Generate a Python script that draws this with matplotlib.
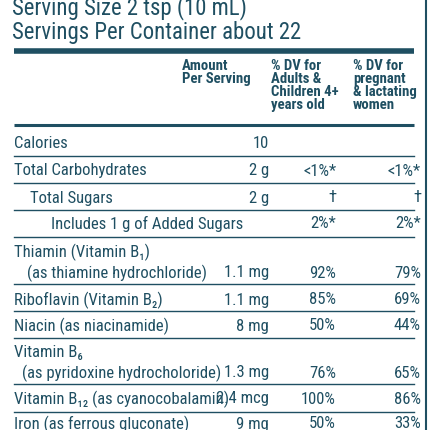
import matplotlib
matplotlib.use("Agg")
import matplotlib.pyplot as plt
from matplotlib import font_manager

names = {f.name for f in font_manager.fontManager.ttflist}
FAM = ["Liberation Sans Narrow", "Roboto Condensed", "DejaVu Sans Condensed", "DejaVu Sans"]
FAM = [f for f in FAM if f in names] + ["DejaVu Sans"]
C = "#1f4f62"

title_lines = ["Serving Size 2 tsp (10 mL)", "Servings Per Container about 22"]
headers = [("Amount\nPer Serving", 182), ("% DV for\nAdults &\nChildren 4+\nyears old", 271),
           ("% DV for\npregnant\n& lactating\nwomen", 353)]
# (label lines, indent, amount, dv_adult, dv_preg)
rows = [
    (["Calories"], [0], "10", "", ""),
    (["Total Carbohydrates"], [0], "2 g", "<1%*", "<1%*"),
    (["Total Sugars"], [16], "2 g", "†", "†"),
    (["Includes 1 g of Added Sugars"], [37], "", "2%*", "2%*"),
    (["Thiamin (Vitamin B₁)", "(as thiamine hydrochloride)"], [0, 13], "1.1 mg", "92%", "79%"),
    (["Riboflavin (Vitamin B₂)"], [0], "1.1 mg", "85%", "69%"),
    (["Niacin (as niacinamide)"], [0], "8 mg", "50%", "44%"),
    (["Vitamin B₆", "(as pyridoxine hydrocholoride)"], [0, 8], "1.3 mg", "76%", "65%"),
    (["Vitamin B₁₂ (as cyanocobalamin)"], [0], "2.4 mcg", "100%", "86%"),
    (["Iron (as ferrous gluconate)"], [0], "9 mg", "50%", "33%"),
]
row_y = [144, 171, 198, 224, 252, 300, 326, 352, 399, 424]
line_y = [156, 183, 210, 237, 284, 311, 338, 384, 412, None]

fig = plt.figure(figsize=(4.3, 4.3), dpi=100)
ax = fig.add_axes([0, 0, 1, 1])
ax.set_xlim(0, 430); ax.set_ylim(430, 0); ax.axis("off")

ax.plot([426, 426], [0, 430], color=C, lw=1.5)
for t, y in zip(title_lines, [8, 32]):
    ax.text(12, y, t, family=FAM, fontsize=16.4, color=C, va="center")
ax.plot([14, 414], [51, 51], color=C, lw=4, solid_capstyle="butt")
for t, x in headers:
    ax.text(x, 59, t, family=FAM, fontsize=10.6, weight="bold", color=C, va="top", linespacing=0.92)
ax.plot([14, 414], [125, 125], color=C, lw=2.2, solid_capstyle="butt")

kw = dict(family=FAM, fontsize=12, color=C, va="center")
for (labels, ind, amt, d1, d2), y, ly in zip(rows, row_y, line_y):
    for k, (lab, i) in enumerate(zip(labels, ind)):
        ax.text(14 + i, y + 21 * k, lab, **kw)
    yy = y + 21 * (len(labels) - 1)
    ax.text(269, yy, amt, ha="right", **kw)
    ax.text(336, yy, d1, ha="right", **kw)
    ax.text(421, yy, d2, ha="right", **kw)
    if ly:
        ax.plot([14, 414], [ly, ly], color=C, lw=1.0)

fig.savefig("out.png", dpi=100)
